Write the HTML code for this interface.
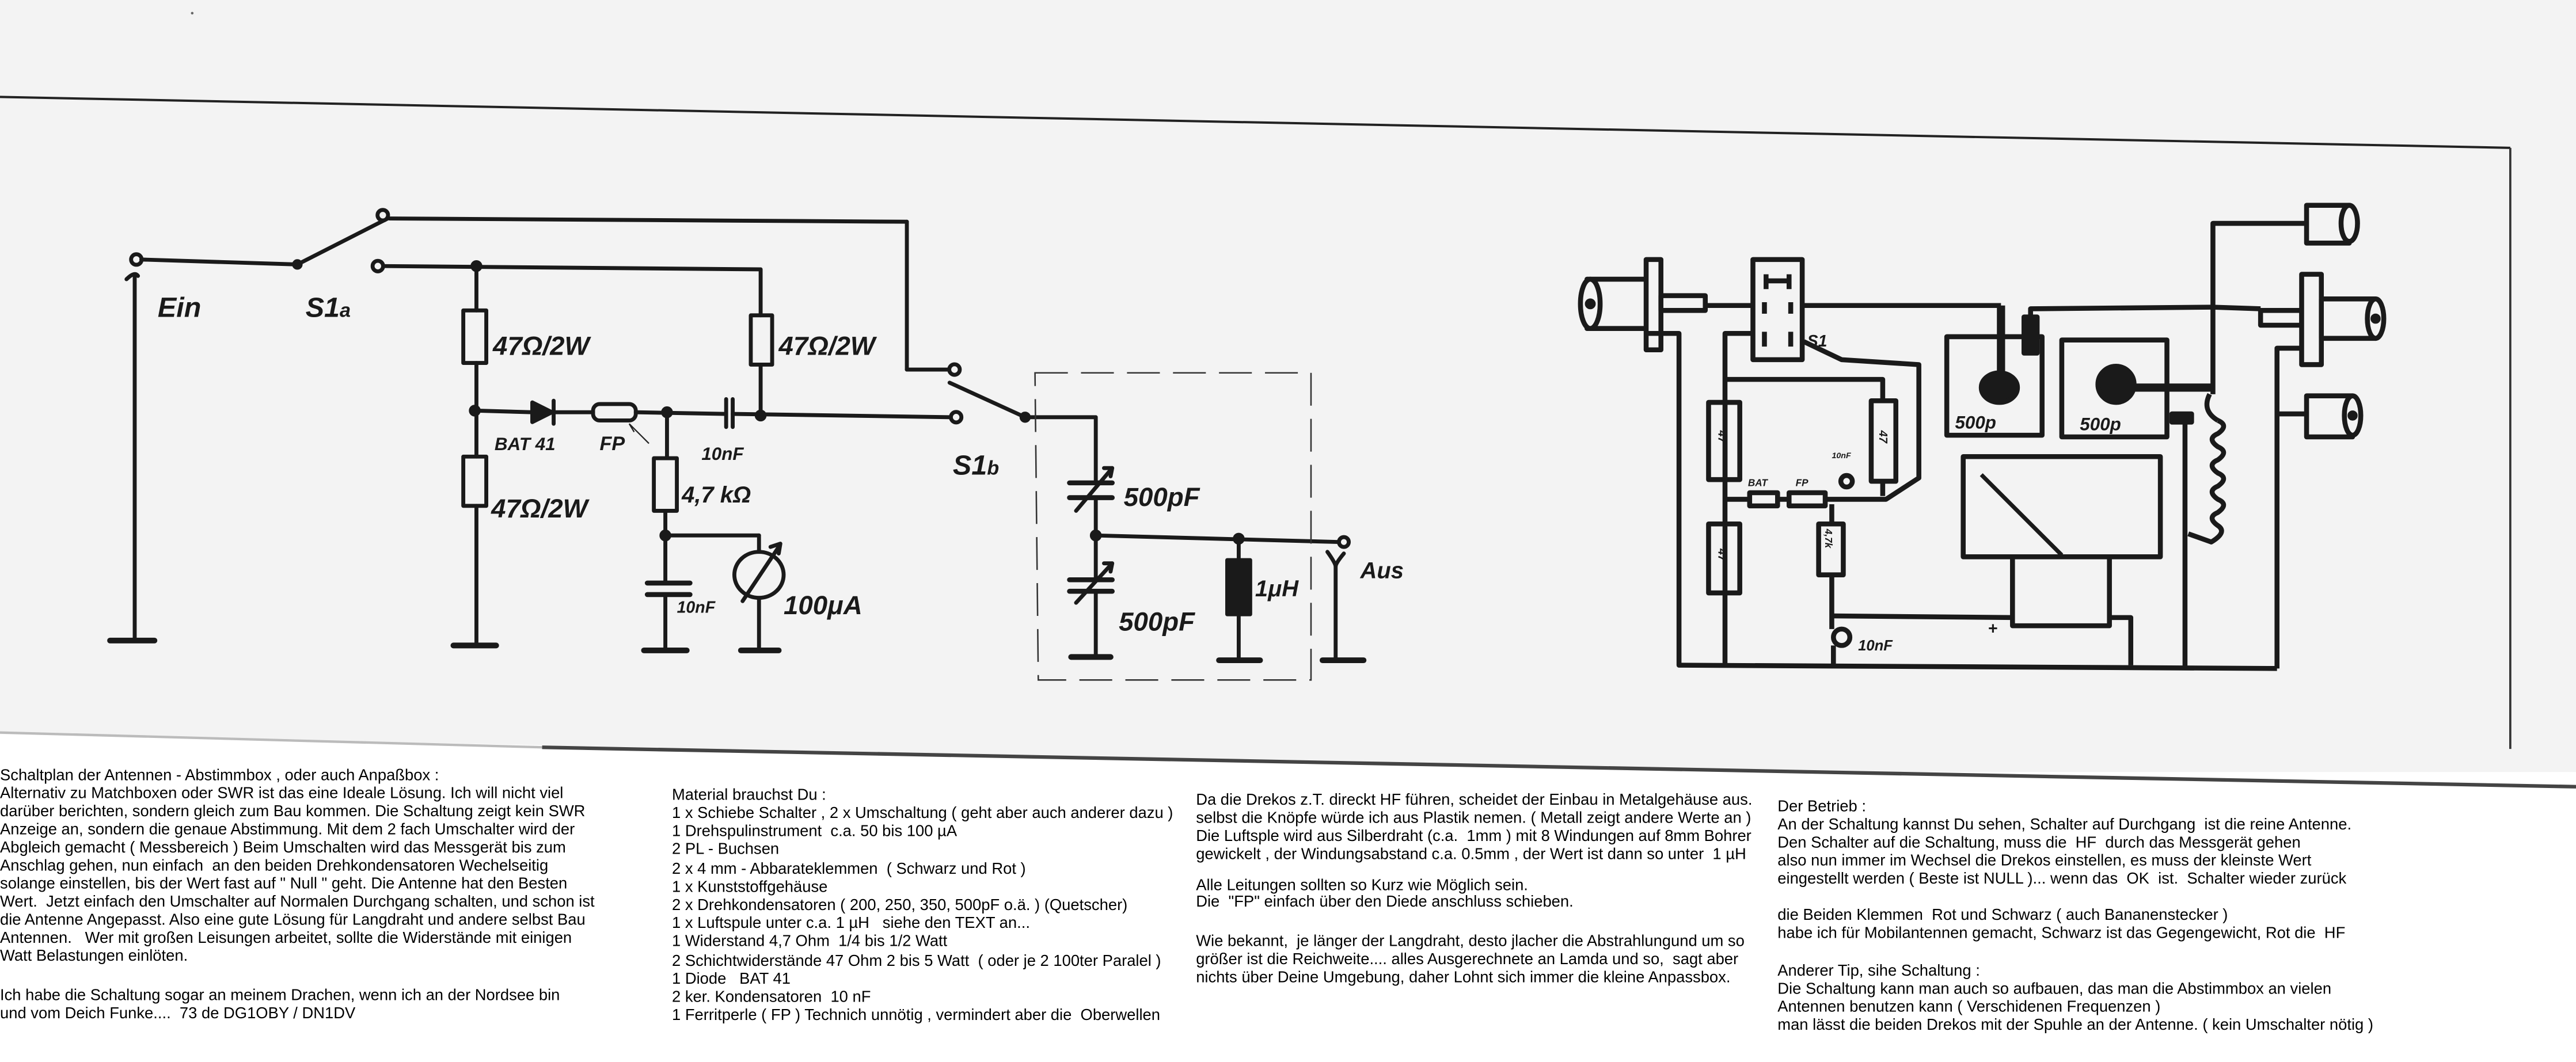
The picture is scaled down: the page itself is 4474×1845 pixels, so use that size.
<!DOCTYPE html>
<html><head><meta charset="utf-8"><style>
html,body{margin:0;padding:0;background:#fff;}
svg{display:block;}
.w{stroke:#1a1a1a;stroke-width:2.4;fill:none;stroke-linecap:round;stroke-linejoin:round;}
.r{stroke:#1a1a1a;stroke-width:3;fill:none;stroke-linejoin:round;}
.h{font-family:"Liberation Sans",sans-serif;font-weight:bold;font-style:italic;fill:#1a1a1a;}
.t{font-family:"Liberation Sans",sans-serif;font-size:9.6px;fill:#000;white-space:pre;}
</style></head><body>
<svg width="4474" height="1845" viewBox="0 0 1568 646.6" xmlns="http://www.w3.org/2000/svg">
<rect x="0" y="0" width="1568" height="470" fill="#f3f3f3"/>
<polygon points="0,447 1568,479 1568,646.6 0,646.6" fill="#fff"/>
<line x1="0" y1="59" x2="1528" y2="90" stroke="#222" stroke-width="1.4"/>
<line x1="1528" y1="90" x2="1528" y2="456" stroke="#333" stroke-width="1.3"/>
<line x1="0" y1="446" x2="330" y2="455" stroke="#bbb" stroke-width="1.5"/>
<line x1="330" y1="455" x2="1568" y2="479" stroke="#444" stroke-width="2.2"/>

<g class="w">
<circle cx="83" cy="158" r="3.2" fill="#f3f3f3"/>
<line x1="82" y1="168" x2="82" y2="390"/>
<path d="M77,170 Q82,165 84,168"/>
<line x1="67" y1="390" x2="94" y2="390" stroke-width="3.5"/>
<line x1="86" y1="158" x2="181" y2="161"/>
<circle cx="181" cy="161" r="2" fill="#1a1a1a"/>
<line x1="181" y1="161" x2="236" y2="133"/>
<circle cx="233" cy="131" r="3.2" fill="#f3f3f3"/>
<line x1="237" y1="133" x2="552" y2="135"/>
<line x1="552" y1="135" x2="552" y2="225"/>
<line x1="552" y1="225" x2="578" y2="225"/>
<circle cx="581" cy="225" r="3.2" fill="#f3f3f3"/>
<circle cx="230" cy="162" r="3.2" fill="#f3f3f3"/>
<line x1="234" y1="162" x2="463" y2="164"/>
<circle cx="290" cy="162" r="2.4" fill="#1a1a1a"/>
<line x1="290" y1="162" x2="290" y2="189"/>
<rect x="282" y="189" width="14" height="32"/>
<line x1="290" y1="221" x2="290" y2="278"/>
<circle cx="289" cy="250" r="2.4" fill="#1a1a1a"/>
<rect x="282" y="278" width="14" height="30"/>
<line x1="290" y1="308" x2="290" y2="393"/>
<line x1="276" y1="393" x2="302" y2="393" stroke-width="3.5"/>
<line x1="463" y1="164" x2="463" y2="192"/>
<rect x="457" y="192" width="13" height="30"/>
<line x1="463" y1="222" x2="463" y2="253"/>
<line x1="289" y1="250" x2="324" y2="251"/>
<polygon points="324,245 324,257 336,251" fill="#1a1a1a"/>
<line x1="337" y1="244" x2="337" y2="258"/>
<line x1="337" y1="251" x2="361" y2="251"/>
<rect x="361" y="246" width="26" height="10" rx="4"/>
<line x1="387" y1="251" x2="441" y2="252"/>
<circle cx="406" cy="251" r="2.4" fill="#1a1a1a"/>
<line x1="442" y1="243" x2="442" y2="260"/>
<line x1="446" y1="243" x2="446" y2="260"/>
<line x1="446" y1="252" x2="578" y2="254"/>
<circle cx="463" cy="253" r="2.4" fill="#1a1a1a"/>
<circle cx="582" cy="254" r="3.2" fill="#f3f3f3"/>
<circle cx="624" cy="254" r="2.2" fill="#1a1a1a"/>
<line x1="624" y1="254" x2="578" y2="233"/>
<line x1="624" y1="254" x2="667" y2="254"/>
<line x1="667" y1="254" x2="667" y2="294"/>
<line x1="651" y1="294" x2="677" y2="294" stroke-width="3"/>
<line x1="651" y1="303" x2="677" y2="303" stroke-width="3"/>
<line x1="655" y1="311" x2="677" y2="285"/>
<path d="M672,285 L677,285 L676,290"/>
<line x1="667" y1="303" x2="667" y2="353"/>
<circle cx="667" cy="326" r="2.4" fill="#1a1a1a"/>
<line x1="651" y1="353" x2="677" y2="353" stroke-width="3"/>
<line x1="651" y1="360" x2="677" y2="360" stroke-width="3"/>
<line x1="655" y1="367" x2="677" y2="343"/>
<path d="M672,343 L677,343 L676,348"/>
<line x1="667" y1="360" x2="667" y2="400"/>
<line x1="652" y1="400" x2="676" y2="400" stroke-width="3.5"/>
<line x1="667" y1="326" x2="815" y2="330"/>
<circle cx="818" cy="330" r="3" fill="#f3f3f3"/>
<circle cx="754" cy="328" r="2.4" fill="#1a1a1a"/>
<line x1="754" y1="328" x2="754" y2="341"/>
<rect x="747" y="341" width="14" height="33" fill="#1a1a1a"/>
<line x1="754" y1="374" x2="754" y2="402"/>
<line x1="742" y1="402" x2="767" y2="402" stroke-width="3.5"/>
<path d="M808,336 Q813,343 813,345 Q813,343 818,337"/>
<line x1="813" y1="345" x2="813" y2="402"/>
<line x1="805" y1="402" x2="830" y2="402" stroke-width="3.5"/>
<line x1="406" y1="251" x2="406" y2="279"/>
<rect x="398" y="279" width="14" height="32"/>
<line x1="405" y1="311" x2="405" y2="355"/>
<circle cx="405" cy="326" r="2.4" fill="#1a1a1a"/>
<line x1="405" y1="326" x2="462" y2="326"/>
<line x1="462" y1="326" x2="462" y2="336"/>
<ellipse cx="462" cy="350" rx="15" ry="14"/>
<line x1="452" y1="366" x2="474" y2="333"/>
<path d="M469,333 L475,331 L474,337"/>
<line x1="462" y1="364" x2="462" y2="396"/>
<line x1="451" y1="396" x2="474" y2="396" stroke-width="3.5"/>
<line x1="394" y1="355" x2="420" y2="355" stroke-width="3"/>
<line x1="394" y1="362" x2="420" y2="362" stroke-width="3"/>
<line x1="405" y1="362" x2="405" y2="396"/>
<line x1="392" y1="396" x2="418" y2="396" stroke-width="3.5"/>
</g>
<path d="M630,227 L798,227 L798,414 L632,414 Z" stroke="#333" stroke-width="0.9" fill="none" stroke-dasharray="20,8"/>
<path d="M386,263 L383,258 M383,258 L391,266 L395,270" stroke="#222" stroke-width="0.8" fill="none"/>
<g class="h">
<text x="96" y="193" font-size="17">Ein</text>
<text x="186" y="193" font-size="17">S1<tspan font-size="12">a</tspan></text>
<text x="300" y="216" font-size="16">47Ω/2W</text>
<text x="299" y="315" font-size="16">47Ω/2W</text>
<text x="474" y="216" font-size="16">47Ω/2W</text>
<text x="301" y="274" font-size="11">BAT 41</text>
<text x="365" y="274" font-size="12">FP</text>
<text x="427" y="280" font-size="11">10nF</text>
<text x="415" y="306" font-size="14">4,7 kΩ</text>
<text x="412" y="373" font-size="10">10nF</text>
<text x="477" y="374" font-size="16">100μA</text>
<text x="580" y="289" font-size="17">S1<tspan font-size="12">b</tspan></text>
<text x="684" y="308" font-size="16">500pF</text>
<text x="681" y="384" font-size="16">500pF</text>
<text x="764" y="363" font-size="14">1μH</text>
<text x="828" y="352" font-size="14">Aus</text>
</g>

<g class="r">
<rect x="966" y="170" width="37" height="30" fill="#f3f3f3"/>
<ellipse cx="968" cy="185" rx="6" ry="15" fill="#f3f3f3"/>
<circle cx="968" cy="185" r="1.8" fill="#1a1a1a"/>
<rect x="1002" y="158" width="9" height="55" fill="#f3f3f3"/>
<rect x="1011" y="180" width="27" height="9" fill="#f3f3f3"/>
<line x1="1038" y1="186" x2="1068" y2="186"/>
<rect x="1067" y="158" width="30" height="61"/>
<path d="M1075,167 L1075,176 M1089,167 L1089,176 M1075,171 L1089,171"/>
<path d="M1074,184 L1074,191 M1090,184 L1090,191 M1074,202 L1074,211 M1090,202 L1090,211"/>
<line x1="1097" y1="186" x2="1218" y2="186"/>
<rect x="1185" y="205" width="58" height="60"/>
<line x1="1218" y1="186" x2="1218" y2="228" stroke-width="5"/>
<ellipse cx="1217" cy="236" rx="11" ry="9" fill="#1a1a1a"/>
<rect x="1232" y="193" width="8" height="22" fill="#1a1a1a"/>
<path d="M1236,193 L1236,188 L1347,187"/>
<line x1="1347" y1="187" x2="1376" y2="188"/>
<path d="M1347,240 L1347,136 L1404,136"/>
<rect x="1404" y="125" width="26" height="23" fill="#f3f3f3"/>
<ellipse cx="1430" cy="136" rx="5" ry="11" fill="#f3f3f3"/>
<rect x="1255" y="207" width="64" height="59"/>
<circle cx="1288" cy="234" r="11" fill="#1a1a1a"/>
<line x1="1290" y1="236" x2="1347" y2="236" stroke-width="5"/>
<rect x="1376" y="189" width="25" height="9" fill="#f3f3f3"/>
<rect x="1401" y="167" width="12" height="55" fill="#f3f3f3"/>
<rect x="1413" y="182" width="33" height="24" fill="#f3f3f3"/>
<ellipse cx="1446" cy="194" rx="5" ry="12" fill="#f3f3f3"/>
<circle cx="1446" cy="194" r="1.6" fill="#1a1a1a"/>
<path d="M1401,212 L1386,212 L1386,407"/>
<line x1="1386" y1="252" x2="1404" y2="252"/>
<rect x="1404" y="241" width="28" height="25" fill="#f3f3f3"/>
<ellipse cx="1432" cy="253" rx="5" ry="12" fill="#f3f3f3"/>
<circle cx="1432" cy="253" r="1.6" fill="#1a1a1a"/>
<path d="M1345,240 Q1340,250 1350,256"/>
<path d="M1350,256 q7,3 0,8 q-7,3 0,8 q7,3 0,8 q-7,3 0,8 q7,3 0,8 q-7,3 0,8 q7,3 0,8 q-7,3 0,8 q6,4 -4,10 L1332,325"/>
<rect x="1322" y="252" width="12" height="5" fill="#1a1a1a"/>
<line x1="1330" y1="256" x2="1330" y2="407"/>
<path d="M1003,203 L1022,203 L1022,405 L1386,407"/>
<path d="M1067,203 L1050,203 L1050,405"/>
<rect x="1040" y="245" width="19" height="47"/>
<rect x="1040" y="319" width="19" height="42"/>
<path d="M1050,231 L1146,231 L1146,244"/>
<rect x="1139" y="244" width="15" height="49"/>
<line x1="1146" y1="293" x2="1146" y2="302"/>
<line x1="1050" y1="304" x2="1065" y2="304"/>
<rect x="1065" y="300" width="17" height="8"/>
<line x1="1082" y1="304" x2="1089" y2="304"/>
<rect x="1089" y="300" width="22" height="8"/>
<path d="M1111,304 L1148,304 L1168,291 L1168,222 L1121,219 L1098,208"/>
<circle cx="1124" cy="293" r="3.5"/>
<path d="M1115,307 L1115,319"/>
<rect x="1107" y="319" width="15" height="31"/>
<line x1="1115" y1="350" x2="1115" y2="383"/>
<line x1="1115" y1="375" x2="1225" y2="376"/>
<circle cx="1121" cy="388" r="5"/>
<line x1="1116" y1="393" x2="1116" y2="405"/>
<rect x="1195" y="278" width="120" height="61"/>
<line x1="1206" y1="289" x2="1255" y2="338" stroke-width="2.5"/>
<path d="M1225,339 L1225,381 L1284,381 L1284,339"/>
<path d="M1284,376 L1297,376 L1297,405"/>
<line x1="1051" y1="246" x2="1051" y2="291" stroke-width="1"/>
</g>
<g class="h" font-size="10">
<text x="1100" y="211">S1</text>
<text x="1190" y="261" font-size="11">500p</text>
<text x="1266" y="262" font-size="11">500p</text>
<text x="1131" y="396" font-size="9">10nF</text>
<text x="1210" y="386" font-size="10">+</text>
<text x="1064" y="296" font-size="6">BAT</text>
<text x="1093" y="296" font-size="6">FP</text>
<text x="1115" y="279" font-size="5">10nF</text>
<text transform="translate(1046,262) rotate(90)" font-size="7">47</text>
<text transform="translate(1046,334) rotate(90)" font-size="7">47</text>
<text transform="translate(1144,262) rotate(90)" font-size="7">47</text>
<text transform="translate(1111,322) rotate(90)" font-size="6">4,7k</text>
</g>
<circle cx="117" cy="8" r="0.8" fill="#666"/>

<text class="t" x="0" y="475">Schaltplan der Antennen - Abstimmbox , oder auch Anpaßbox :</text>
<text class="t" x="0" y="486">Alternativ zu Matchboxen oder SWR ist das eine Ideale Lösung. Ich will nicht viel</text>
<text class="t" x="0" y="497">darüber berichten, sondern gleich zum Bau kommen. Die Schaltung zeigt kein SWR</text>
<text class="t" x="0" y="508">Anzeige an, sondern die genaue Abstimmung. Mit dem 2 fach Umschalter wird der</text>
<text class="t" x="0" y="519">Abgleich gemacht ( Messbereich ) Beim Umschalten wird das Messgerät bis zum</text>
<text class="t" x="0" y="530">Anschlag gehen, nun einfach  an den beiden Drehkondensatoren Wechelseitig</text>
<text class="t" x="0" y="541">solange einstellen, bis der Wert fast auf " Null " geht. Die Antenne hat den Besten</text>
<text class="t" x="0" y="552">Wert.  Jetzt einfach den Umschalter auf Normalen Durchgang schalten, und schon ist</text>
<text class="t" x="0" y="563">die Antenne Angepasst. Also eine gute Lösung für Langdraht und andere selbst Bau</text>
<text class="t" x="0" y="574">Antennen.   Wer mit großen Leisungen arbeitet, sollte die Widerstände mit einigen</text>
<text class="t" x="0" y="585">Watt Belastungen einlöten.</text>
<text class="t" x="0" y="609">Ich habe die Schaltung sogar an meinem Drachen, wenn ich an der Nordsee bin</text>
<text class="t" x="0" y="620">und vom Deich Funke....  73 de DG1OBY / DN1DV</text>

<text class="t" x="409" y="487">Material brauchst Du :</text>
<text class="t" x="409" y="498">1 x Schiebe Schalter , 2 x Umschaltung ( geht aber auch anderer dazu )</text>
<text class="t" x="409" y="509">1 Drehspulinstrument  c.a. 50 bis 100 µA</text>
<text class="t" x="409" y="520">2 PL - Buchsen</text>
<text class="t" x="409" y="532">2 x 4 mm - Abbarateklemmen  ( Schwarz und Rot )</text>
<text class="t" x="409" y="543">1 x Kunststoffgehäuse</text>
<text class="t" x="409" y="554">2 x Drehkondensatoren ( 200, 250, 350, 500pF o.ä. ) (Quetscher)</text>
<text class="t" x="409" y="565">1 x Luftspule unter c.a. 1 µH   siehe den TEXT an...</text>
<text class="t" x="409" y="576">1 Widerstand 4,7 Ohm  1/4 bis 1/2 Watt</text>
<text class="t" x="409" y="588">2 Schichtwiderstände 47 Ohm 2 bis 5 Watt  ( oder je 2 100ter Paralel )</text>
<text class="t" x="409" y="599">1 Diode   BAT 41</text>
<text class="t" x="409" y="610">2 ker. Kondensatoren  10 nF</text>
<text class="t" x="409" y="621">1 Ferritperle ( FP ) Technich unnötig , vermindert aber die  Oberwellen</text>

<text class="t" x="728" y="490">Da die Drekos z.T. direckt HF führen, scheidet der Einbau in Metalgehäuse aus.</text>
<text class="t" x="728" y="501">selbst die Knöpfe würde ich aus Plastik nemen. ( Metall zeigt andere Werte an )</text>
<text class="t" x="728" y="512">Die Luftsple wird aus Silberdraht (c.a.  1mm ) mit 8 Windungen auf 8mm Bohrer</text>
<text class="t" x="728" y="523">gewickelt , der Windungsabstand c.a. 0.5mm , der Wert ist dann so unter  1 µH</text>
<text class="t" x="728" y="542">Alle Leitungen sollten so Kurz wie Möglich sein.</text>
<text class="t" x="728" y="552">Die  "FP" einfach über den Diede anschluss schieben.</text>
<text class="t" x="728" y="576">Wie bekannt,  je länger der Langdraht, desto jlacher die Abstrahlungund um so</text>
<text class="t" x="728" y="587">größer ist die Reichweite.... alles Ausgerechnete an Lamda und so,  sagt aber</text>
<text class="t" x="728" y="598">nichts über Deine Umgebung, daher Lohnt sich immer die kleine Anpassbox.</text>

<text class="t" x="1082" y="494">Der Betrieb :</text>
<text class="t" x="1082" y="505">An der Schaltung kannst Du sehen, Schalter auf Durchgang  ist die reine Antenne.</text>
<text class="t" x="1082" y="516">Den Schalter auf die Schaltung, muss die  HF  durch das Messgerät gehen</text>
<text class="t" x="1082" y="527">also nun immer im Wechsel die Drekos einstellen, es muss der kleinste Wert</text>
<text class="t" x="1082" y="538">eingestellt werden ( Beste ist NULL )... wenn das  OK  ist.  Schalter wieder zurück</text>
<text class="t" x="1082" y="560">die Beiden Klemmen  Rot und Schwarz ( auch Bananenstecker )</text>
<text class="t" x="1082" y="571">habe ich für Mobilantennen gemacht, Schwarz ist das Gegengewicht, Rot die  HF</text>
<text class="t" x="1082" y="594">Anderer Tip, sihe Schaltung :</text>
<text class="t" x="1082" y="605">Die Schaltung kann man auch so aufbauen, das man die Abstimmbox an vielen</text>
<text class="t" x="1082" y="616">Antennen benutzen kann ( Verschidenen Frequenzen )</text>
<text class="t" x="1082" y="627">man lässt die beiden Drekos mit der Spuhle an der Antenne. ( kein Umschalter nötig )</text>
</svg>
</body></html>
